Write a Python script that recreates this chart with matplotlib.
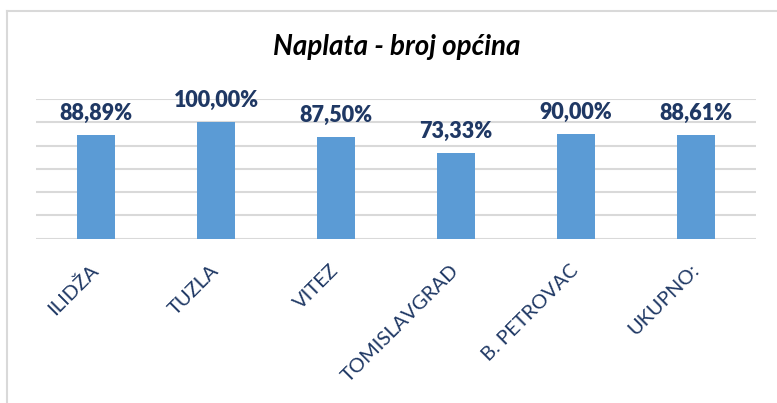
import matplotlib
matplotlib.use("Agg")
import matplotlib.pyplot as plt
from matplotlib.lines import Line2D

categories = ["ILIDŽA", "TUZLA", "VITEZ", "TOMISLAVGRAD", "B. PETROVAC", "UKUPNO:"]
values = [88.89, 100.00, 87.50, 73.33, 90.00, 88.61]
value_labels = ["88,89%", "100,00%", "87,50%", "73,33%", "90,00%", "88,61%"]
title = "Naplata - broj općina"

plt.rcParams['font.family'] = ['Lato', 'DejaVu Sans']

W, H = 777, 403
fig = plt.figure(figsize=(W / 100, H / 100), dpi=100)
fig.patch.set_facecolor("white")

ax = fig.add_axes([36 / W, 1 - 238.5 / H, 720 / W, (238.5 - 99) / H])
x = list(range(len(categories)))
ax.bar(x, values, width=0.31, color="#5B9BD5", zorder=3)
ax.set_xlim(-0.5, len(categories) - 0.5)
ax.set_ylim(0, 120)
ax.set_yticks([0, 20, 40, 60, 80, 100, 120])
ax.yaxis.grid(True, color="#D9D9D9", linewidth=1.5, zorder=0)
ax.set_yticklabels([])
ax.tick_params(axis="y", length=0)
ax.tick_params(axis="x", length=0, pad=21)
for s in ax.spines.values():
    s.set_visible(False)
ax.set_facecolor("none")

ax.set_xticks(x)
ax.set_xticklabels(categories, rotation=45, ha="right", va="center",
                   rotation_mode="anchor", fontsize=14.5, color="#1F3864")

for xi, v, lab in zip(x, values, value_labels):
    ax.annotate(lab, (xi, v), xytext=(0, 8), textcoords="offset points",
                ha="center", va="bottom", fontsize=15.5, fontweight="heavy",
                color="#1F3864", clip_on=False, zorder=5)

fig.text(397 / W, 1 - 47 / H, title, ha="center", va="center", fontsize=20,
         fontweight="bold", fontstyle="italic", color="black")

# outer chart frame (partially visible)
fig.add_artist(Line2D([7 / W, 7 / W], [0, 1 - 11 / H], transform=fig.transFigure,
                      color="#D9D9D9", linewidth=1.5))
fig.add_artist(Line2D([7 / W, 1], [1 - 11 / H, 1 - 11 / H], transform=fig.transFigure,
                      color="#D9D9D9", linewidth=1.5))

fig.savefig("out.png", dpi=100, facecolor="white")
